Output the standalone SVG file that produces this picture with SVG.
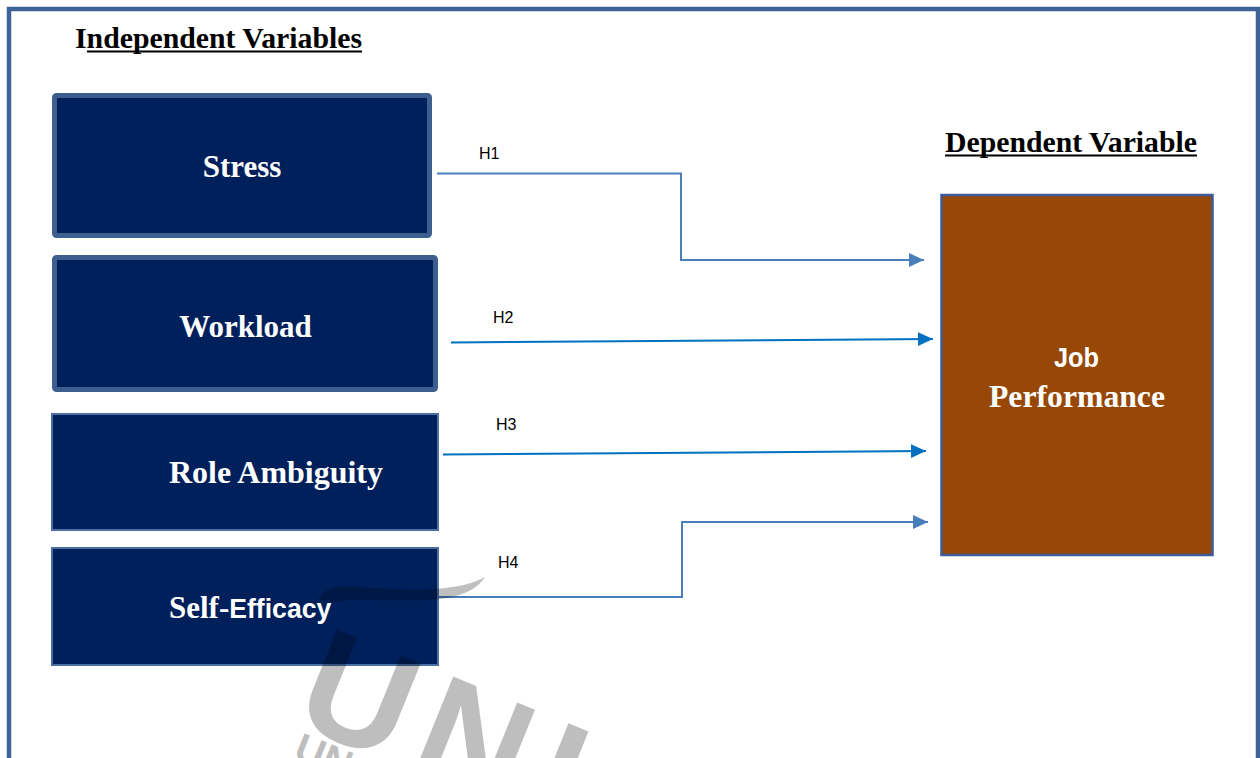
<svg xmlns="http://www.w3.org/2000/svg" width="1260" height="758" viewBox="0 0 1260 758">
  <style>
    .heading { font-family: "Liberation Serif", "Times New Roman", serif; font-weight: bold; font-size: 29px; fill: #000; }
    .label { font-family: "Liberation Serif", "Times New Roman", serif; font-weight: bold; font-size: 31px; fill: #fff; }
    .sans { font-family: "Liberation Sans", Arial, sans-serif; font-weight: bold; }
    .hyp { font-family: "Liberation Sans", Arial, sans-serif; font-size: 16px; fill: #000; }
    .box-thick { fill: #00205c; stroke: #3d5f8f; stroke-width: 5; }
    .box-thin { fill: #00205c; stroke: #4a6fa5; stroke-width: 2; }
    .elbow { fill: none; stroke: #4a7ebb; stroke-width: 2; }
    .straight { fill: none; stroke: #0070c0; stroke-width: 2; }
    .mark { fill: #000; opacity: 0.25; font-family: "Liberation Sans", Arial, sans-serif; font-weight: bold; }
  </style>
  <defs>
    <marker id="arrowSteel" markerUnits="userSpaceOnUse" markerWidth="16" markerHeight="16" refX="15" refY="7" orient="auto">
      <path d="M0,0 L15,7 L0,14 Z" fill="#4a7ebb"/>
    </marker>
    <marker id="arrowBlue" markerUnits="userSpaceOnUse" markerWidth="16" markerHeight="16" refX="15" refY="7" orient="auto">
      <path d="M0,0 L15,7 L0,14 Z" fill="#0070c0"/>
    </marker>
  </defs>

  <rect width="1260" height="758" fill="#fff"/>

  <!-- outer frame -->
  <rect x="9" y="9" width="1249" height="800" fill="none" stroke="#3f6397" stroke-width="4.5"/>

  <!-- section headings -->
  <g id="heading-independent">
    <text class="heading" x="75" y="48" textLength="287" lengthAdjust="spacingAndGlyphs">Independent Variables</text>
    <line x1="87" y1="51.5" x2="362" y2="51.5" stroke="#000" stroke-width="2"/>
  </g>
  <g id="heading-dependent">
    <text class="heading" x="945" y="152" textLength="252" lengthAdjust="spacingAndGlyphs">Dependent Variable</text>
    <line x1="945" y1="155.5" x2="1197" y2="155.5" stroke="#000" stroke-width="2"/>
  </g>

  <!-- independent variables -->
  <g id="node-stress">
    <rect class="box-thick" x="54.5" y="95.5" width="375" height="140" rx="2"/>
    <text class="label" x="242" y="177" text-anchor="middle">Stress</text>
  </g>
  <g id="node-workload">
    <rect class="box-thick" x="54.5" y="257.5" width="381" height="132" rx="2"/>
    <text class="label" x="245.5" y="337" text-anchor="middle">Workload</text>
  </g>
  <g id="node-role-ambiguity">
    <rect class="box-thin" x="52" y="414" width="386" height="116"/>
    <text class="label" x="169" y="483" textLength="214" lengthAdjust="spacingAndGlyphs">Role Ambiguity</text>
  </g>
  <g id="node-self-efficacy">
    <rect class="box-thin" x="52" y="548" width="386" height="117"/>
    <text x="169" y="618"><tspan class="label">Self-</tspan><tspan class="sans" font-size="28" fill="#fff" textLength="102" lengthAdjust="spacingAndGlyphs">Efficacy</tspan></text>
  </g>

  <!-- dependent variable -->
  <g id="node-job-performance">
    <rect x="941.5" y="195" width="271" height="360" fill="#974706" stroke="#3d5c9a" stroke-width="2.5"/>
    <text class="sans" x="1076.5" y="367" font-size="27" fill="#fff" text-anchor="middle" textLength="45" lengthAdjust="spacingAndGlyphs">Job</text>
    <text class="label" x="1077" y="407" text-anchor="middle" textLength="176" lengthAdjust="spacingAndGlyphs">Performance</text>
  </g>

  <!-- hypothesis connectors -->
  <g id="connectors">
    <path class="elbow" d="M437,173.5 H681 V260 H924" marker-end="url(#arrowSteel)"/>
    <path class="straight" d="M451,342.5 L933,339" marker-end="url(#arrowBlue)"/>
    <path class="straight" d="M443,454.5 L926,451" marker-end="url(#arrowBlue)"/>
    <path class="elbow" d="M439,597 H682 V522 H928" marker-end="url(#arrowSteel)"/>
    <text class="hyp" x="479" y="159">H1</text>
    <text class="hyp" x="493" y="323">H2</text>
    <text class="hyp" x="496" y="430">H3</text>
    <text class="hyp" x="498" y="568">H4</text>
  </g>

  <!-- faint logo mark in the lower area -->
  <g id="logo-mark">
    <path class="mark" d="M485,577 C455,594 400,590 345,586 C330,586 322,592 318,600 L336,602 C350,597 400,603 440,599 C465,596 478,588 485,577 Z"/>
    <text class="mark" x="290" y="722" font-size="150" letter-spacing="16" transform="rotate(22 290 722)">UNI</text>
    <text class="mark" x="292" y="758" font-size="40" transform="rotate(22 292 758)">UN</text>
  </g>
</svg>
